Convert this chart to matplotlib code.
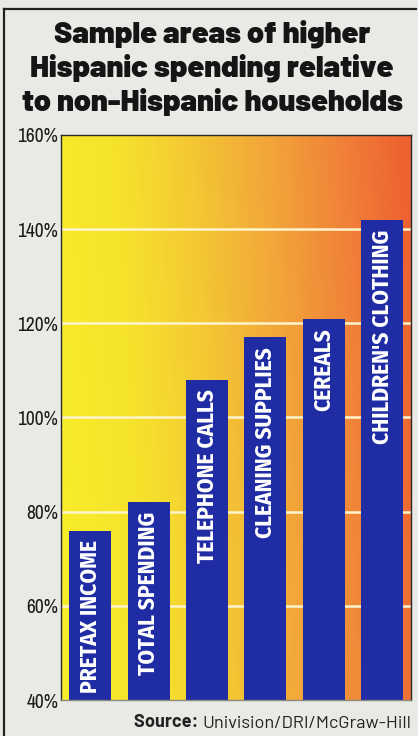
import matplotlib
matplotlib.use("Agg")
import matplotlib.pyplot as plt
import numpy as np
from matplotlib.colors import LinearSegmentedColormap
from matplotlib.lines import Line2D

# ---- data -------------------------------------------------------------
categories = ["PRETAX INCOME", "TOTAL SPENDING", "TELEPHONE CALLS",
              "CLEANING SUPPLIES", "CEREALS", "CHILDREN'S CLOTHING"]
values = [76, 82, 108, 117, 121, 142]          # percent of non-Hispanic spending
tick_values = [40, 60, 80, 100, 120, 140, 160]
tick_labels = ["40%", "60%", "80%", "100%", "120%", "140%", "160%"]
title_lines = ["Sample areas of higher",
               "Hispanic spending relative",
               "to non-Hispanic households"]
source_label = "Source:"
source_text = "Univision/DRI/McGraw-Hill"

# ---- fonts ------------------------------------------------------------
NARROW = ["Archivo Narrow", "DejaVu Sans"]
BARFONT = ["Fira Sans Condensed", "Barlow Semi Condensed", "DejaVu Sans"]
HEAVY = ["Barlow", "DejaVu Sans"]

W, H = 418, 736
fig = plt.figure(figsize=(W / 100, H / 100), dpi=100, facecolor="#e9e9e6")

# plot box in pixel coordinates
left, right, top, bottom = 61, 411, 135, 700
ax = fig.add_axes([left / W, 1 - bottom / H, (right - left) / W, (bottom - top) / H])

ymin, ymax = tick_values[0], tick_values[-1]
x = np.arange(len(categories))
ax.set_xlim(-0.5, len(categories) - 0.5)
ax.set_ylim(ymin, ymax)

# warm gradient background: yellow on the left to red-orange on the right
cmap = LinearSegmentedColormap.from_list(
    "warm",
    [(0.00, "#f8ee2a"), (0.25, "#f6e22c"), (0.45, "#f4c634"),
     (0.65, "#f2a43a"), (0.85, "#f07e38"), (1.00, "#ee6230")])
gx, gy = np.meshgrid(np.linspace(0, 1, 400), np.linspace(0, 1, 300))
grad = np.clip(gx * 0.92 + gy * 0.10, 0, 1)
ax.imshow(grad, cmap=cmap, extent=(-0.5, len(categories) - 0.5, ymin, ymax),
          origin="lower", aspect="auto", zorder=0, interpolation="bilinear")

# light gridlines behind the bars
for t in tick_values[1:-1]:
    ax.axhline(t, color="#fff4cc", lw=1.8, zorder=1)

bars = ax.bar(x, np.array(values) - ymin, bottom=ymin, width=0.72,
              color="#1f2ca3", zorder=2)

for xi, val, name in zip(x, values, categories):
    ax.annotate(name, xy=(xi, val), xytext=(0, -7), textcoords="offset points",
                rotation=90, ha="center", va="top", color="white",
                fontsize=16.8, fontweight="bold", family=BARFONT, zorder=3)

ax.set_xticks([])
ax.set_yticks(tick_values)
ax.set_yticklabels(tick_labels, family=NARROW, fontsize=14, color="#1a1a1a")
ax.tick_params(axis="y", length=0, pad=2)
for side, sp in ax.spines.items():
    sp.set_color("#2a2a2a")
    sp.set_linewidth(1.0)
ax.spines["bottom"].set_color("#8a8a80")

# title
for i, line in enumerate(title_lines):
    fig.text(212 / W, 1 - (43 + 34 * i) / H, line, ha="center", va="baseline",
             fontsize=22, fontweight=900, family=HEAVY, color="#151515")

# source line: bold label followed by plain text, right aligned
src = fig.text(411 / W, 1 - 728 / H, source_text, ha="right", va="baseline",
               fontsize=13.1, family=HEAVY, color="#222222")
ax.annotate(source_label + " ", xy=(0, 0), xycoords=src, ha="right", va="bottom",
            fontsize=13.1, fontweight="bold", family=HEAVY, color="#222222",
            annotation_clip=False)

# outer frame rules
fig.add_artist(Line2D([4 / W, 4 / W], [0, 1 - 9 / H], color="#222222", lw=1.6))
fig.add_artist(Line2D([4 / W, 416 / W], [1 - 9 / H, 1 - 9 / H], color="#222222", lw=1.6))

fig.savefig("out.png", dpi=100, facecolor=fig.get_facecolor())
